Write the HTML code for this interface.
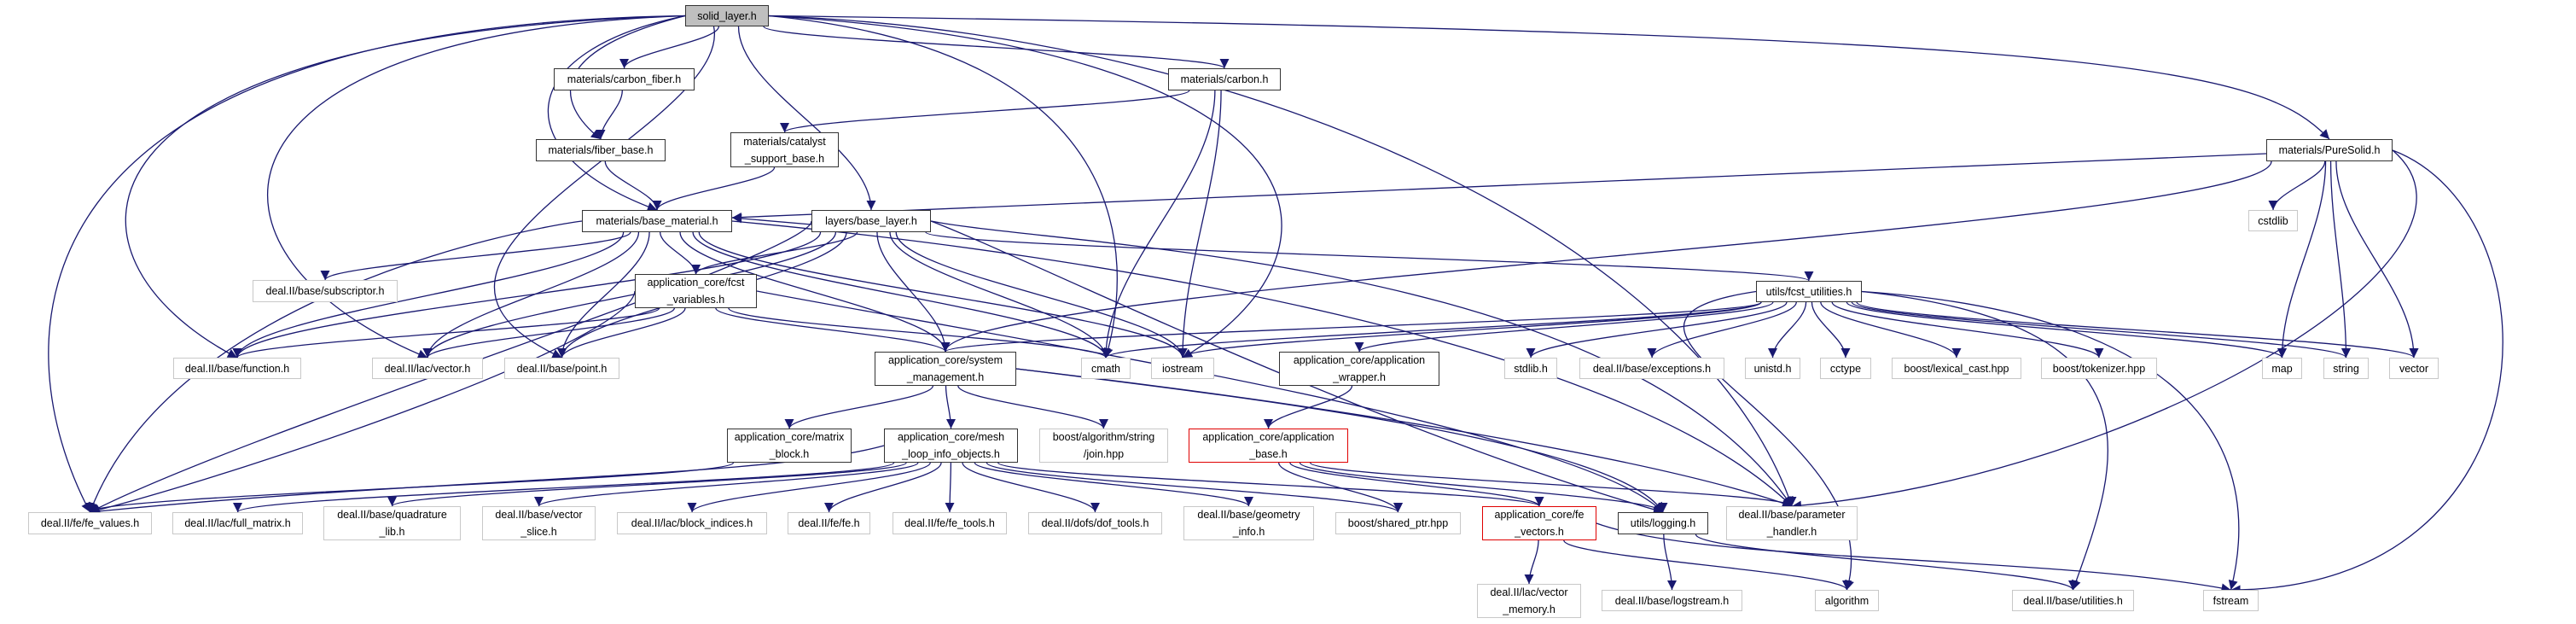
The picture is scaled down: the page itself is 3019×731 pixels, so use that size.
<!DOCTYPE html>
<html><head><meta charset="utf-8">
<style>
html,body{margin:0;padding:0;background:#fff;}
#c{position:relative;width:3019px;height:731px;overflow:hidden;background:#fff;}
svg{position:absolute;left:0;top:0;}
.n{position:absolute;box-sizing:border-box;border:1.5px solid #333;background:#fff;font-family:"Liberation Sans",Arial,sans-serif;font-size:12.5px;color:#000;display:flex;align-items:center;justify-content:center;text-align:center;line-height:20px;white-space:nowrap;}
.g{border:1.5px solid #c8c8c8;}
.r{border:1.5px solid #e00000;}
.s{background:#bfbfbf;}
</style></head><body>
<div id="c">
<svg id="sv" width="3019" height="731" viewBox="0 0 3019 731">
<defs><marker id="a" viewBox="0 0 10 10" refX="10" refY="5" markerWidth="14" markerHeight="11" markerUnits="userSpaceOnUse" orient="auto"><path d="M0,0 L10,5 L0,10 z" fill="#191970"/></marker></defs>
<g id="e" fill="none" stroke="#191970" stroke-width="1.3"></g>
</svg>
<div class="n s" style="left:803px;top:6px;width:98px;height:25px">solid_layer.h</div>
<div class="n" style="left:649px;top:80px;width:165px;height:26px">materials/carbon_fiber.h</div>
<div class="n" style="left:628px;top:163px;width:152px;height:26px">materials/fiber_base.h</div>
<div class="n" style="left:856px;top:155px;width:127px;height:41px">materials/catalyst<br>_support_base.h</div>
<div class="n" style="left:682px;top:246px;width:176px;height:26px">materials/base_material.h</div>
<div class="n" style="left:951px;top:246px;width:140px;height:26px">layers/base_layer.h</div>
<div class="n g" style="left:296px;top:328px;width:170px;height:26px">deal.II/base/subscriptor.h</div>
<div class="n" style="left:744px;top:321px;width:143px;height:40px">application_core/fcst<br>_variables.h</div>
<div class="n" style="left:1369px;top:80px;width:132px;height:26px">materials/carbon.h</div>
<div class="n" style="left:2656px;top:163px;width:148px;height:26px">materials/PureSolid.h</div>
<div class="n g" style="left:2635px;top:246px;width:58px;height:25px">cstdlib</div>
<div class="n" style="left:2058px;top:329px;width:124px;height:25px">utils/fcst_utilities.h</div>
<div class="n g" style="left:203px;top:419px;width:150px;height:25px">deal.II/base/function.h</div>
<div class="n g" style="left:436px;top:419px;width:130px;height:25px">deal.II/lac/vector.h</div>
<div class="n g" style="left:591px;top:419px;width:135px;height:25px">deal.II/base/point.h</div>
<div class="n" style="left:1025px;top:412px;width:166px;height:40px">application_core/system<br>_management.h</div>
<div class="n g" style="left:1267px;top:419px;width:58px;height:25px">cmath</div>
<div class="n g" style="left:1349px;top:419px;width:74px;height:25px">iostream</div>
<div class="n" style="left:1499px;top:412px;width:188px;height:40px">application_core/application<br>_wrapper.h</div>
<div class="n g" style="left:1763px;top:419px;width:62px;height:25px">stdlib.h</div>
<div class="n g" style="left:1851px;top:419px;width:170px;height:25px">deal.II/base/exceptions.h</div>
<div class="n g" style="left:2045px;top:419px;width:65px;height:25px">unistd.h</div>
<div class="n g" style="left:2133px;top:419px;width:60px;height:25px">cctype</div>
<div class="n g" style="left:2217px;top:419px;width:152px;height:25px">boost/lexical_cast.hpp</div>
<div class="n g" style="left:2392px;top:419px;width:136px;height:25px">boost/tokenizer.hpp</div>
<div class="n g" style="left:2651px;top:419px;width:47px;height:25px">map</div>
<div class="n g" style="left:2723px;top:419px;width:53px;height:25px">string</div>
<div class="n g" style="left:2800px;top:419px;width:58px;height:25px">vector</div>
<div class="n" style="left:852px;top:502px;width:146px;height:40px">application_core/matrix<br>_block.h</div>
<div class="n" style="left:1036px;top:502px;width:157px;height:40px">application_core/mesh<br>_loop_info_objects.h</div>
<div class="n g" style="left:1218px;top:502px;width:151px;height:40px">boost/algorithm/string<br>/join.hpp</div>
<div class="n r" style="left:1393px;top:502px;width:187px;height:40px">application_core/application<br>_base.h</div>
<div class="n g" style="left:33px;top:600px;width:145px;height:26px">deal.II/fe/fe_values.h</div>
<div class="n g" style="left:202px;top:600px;width:153px;height:26px">deal.II/lac/full_matrix.h</div>
<div class="n g" style="left:379px;top:593px;width:161px;height:40px">deal.II/base/quadrature<br>_lib.h</div>
<div class="n g" style="left:565px;top:593px;width:133px;height:40px">deal.II/base/vector<br>_slice.h</div>
<div class="n g" style="left:723px;top:600px;width:176px;height:26px">deal.II/lac/block_indices.h</div>
<div class="n g" style="left:923px;top:600px;width:97px;height:26px">deal.II/fe/fe.h</div>
<div class="n g" style="left:1046px;top:600px;width:134px;height:26px">deal.II/fe/fe_tools.h</div>
<div class="n g" style="left:1205px;top:600px;width:157px;height:26px">deal.II/dofs/dof_tools.h</div>
<div class="n g" style="left:1387px;top:593px;width:153px;height:40px">deal.II/base/geometry<br>_info.h</div>
<div class="n g" style="left:1565px;top:600px;width:147px;height:26px">boost/shared_ptr.hpp</div>
<div class="n r" style="left:1737px;top:593px;width:134px;height:40px">application_core/fe<br>_vectors.h</div>
<div class="n" style="left:1896px;top:600px;width:106px;height:26px">utils/logging.h</div>
<div class="n g" style="left:2023px;top:593px;width:154px;height:40px">deal.II/base/parameter<br>_handler.h</div>
<div class="n g" style="left:1731px;top:684px;width:122px;height:40px">deal.II/lac/vector<br>_memory.h</div>
<div class="n g" style="left:1877px;top:691px;width:165px;height:25px">deal.II/base/logstream.h</div>
<div class="n g" style="left:2127px;top:691px;width:75px;height:25px">algorithm</div>
<div class="n g" style="left:2358px;top:691px;width:143px;height:25px">deal.II/base/utilities.h</div>
<div class="n g" style="left:2582px;top:691px;width:65px;height:25px">fstream</div>
</div>
<script>
var N={SL:[803,6,901,31],CF:[649,80,814,106],FB:[628,163,780,189],CSB:[856,155,983,196],BM:[682,246,858,272],BL:[951,246,1091,272],SUB:[296,328,466,354],FV:[744,321,887,361],CA:[1369,80,1501,106],PS:[2656,163,2804,189],CSTD:[2635,246,2693,271],FU:[2058,329,2182,354],FUNC:[203,419,353,444],VEC:[436,419,566,444],PT:[591,419,726,444],SM:[1025,412,1191,452],CMATH:[1267,419,1325,444],IOS:[1349,419,1423,444],AW:[1499,412,1687,452],STD:[1763,419,1825,444],EXC:[1851,419,2021,444],UNI:[2045,419,2110,444],CCT:[2133,419,2193,444],LEX:[2217,419,2369,444],TOK:[2392,419,2528,444],MAP:[2651,419,2698,444],STR:[2723,419,2776,444],VECT:[2800,419,2858,444],MB:[852,502,998,542],MLI:[1036,502,1193,542],JOIN:[1218,502,1369,542],AB:[1393,502,1580,542],FEV:[33,600,178,626],FM:[202,600,355,626],QL:[379,593,540,633],VS:[565,593,698,633],BI:[723,600,899,626],FE:[923,600,1020,626],FT:[1046,600,1180,626],DT:[1205,600,1362,626],GI:[1387,593,1540,633],SP:[1565,600,1712,626],FVEC:[1737,593,1871,633],LOG:[1896,600,2002,626],PH:[2023,593,2177,633],VM:[1731,684,1853,724],LS:[1877,691,2042,716],ALG:[2127,691,2202,716],UT:[2358,691,2501,716],FS:[2582,691,2647,716]};
var E=[
["SL","CF"],["SL","FB",[640,60,650,120]],["SL","BM",[600,60,590,180]],["SL","BL"],["SL","CA"],["SL","PS",[2500,40,2650,80]],
["SL","FEV",[0,30,0,400]],["SL","FUNC",[60,40,50,300]],["SL","VEC",[220,40,210,300]],["SL","PT",[860,150,400,300]],
["SL","CMATH",[1330,60,1330,300]],["SL","IOS",[1580,60,1590,300]],["SL","PH",[1500,40,2000,300]],
["CF","FB"],["FB","BM"],["CSB","BM"],["CA","CSB"],["CA","CMATH"],["CA","IOS"],
["PS","BM","L"],["PS","SM"],["PS","CSTD"],["PS","MAP"],["PS","STR"],["PS","VECT"],["PS","PH",[2950,300,2500,560]],["PS","FS",[3000,250,3000,690]],
["BM","SUB"],["BM","FV"],["BM","FUNC"],["BM","VEC"],["BM","PT"],["BM","FEV",[600,270,200,350]],["BM","SM"],["BM","CMATH"],["BM","IOS"],["BM","PH",[1300,300,1900,400]],
["BL","BM","L"],["BL","FV"],["BL","FU"],["BL","SM"],["BL","FUNC"],["BL","VEC"],["BL","PT"],["BL","FEV",[950,300,300,500]],["BL","CMATH"],["BL","IOS"],["BL","LOG",[1200,300,1600,500]],["BL","PH",[1250,290,1900,300]],
["FV","FUNC"],["FV","VEC"],["FV","PT"],["FV","FEV",[740,400,300,550]],["FV","SM"],["FV","CMATH"],["FV","LOG",[1200,400,1850,500]],
["FU","SM"],["FU","CMATH"],["FU","IOS"],["FU","AW"],["FU","STD"],["FU","EXC"],["FU","UNI"],["FU","CCT"],["FU","LEX"],["FU","TOK"],["FU","MAP"],["FU","STR"],["FU","VECT"],["FU","ALG",[1800,380,2220,500]],["FU","UT",[2550,380,2480,550]],["FU","FS",[2600,370,2650,550]],
["SM","MB"],["SM","MLI"],["SM","JOIN"],["SM","LOG",[1500,470,1900,520]],["SM","PH",[1600,480,1950,540]],
["AW","AB"],["AB","SP"],["AB","FVEC"],["AB","LOG"],["AB","PH"],
["MB","FEV"],["MLI","FEV",[900,560,500,560]],["MLI","FM"],["MLI","QL"],["MLI","VS"],["MLI","BI"],["MLI","FE"],["MLI","FT"],["MLI","DT"],["MLI","GI"],["MLI","SP"],["MLI","FVEC"],
["FVEC","VM"],["FVEC","ALG"],["FVEC","FS",[2000,660,2400,650]],["LOG","LS"],["LOG","UT"]];
var g=document.getElementById("e"),s="";
E.forEach(function(e){var a=N[e[0]],b=N[e[1]];var ac=(a[0]+a[2])/2,bc=(b[0]+b[2])/2;
var sx,sy,tx,ty,c;
if(e[2]==="L"){sx=a[0];sy=(a[1]+a[3])/2+4;tx=b[2];ty=(b[1]+b[3])/2-4;s+='<path d="M'+sx+','+sy+' L'+tx+','+ty+'" marker-end="url(#a)"/>';return;}
sx=ac+(bc-ac)*0.08;sx=Math.max(a[0]+6,Math.min(a[2]-6,sx));sy=a[3];
tx=bc;ty=b[1];
if(e[2]){c=e[2];if(c[0]<a[0]){sx=a[0];sy=(a[1]+a[3])/2;}else if(c[0]>a[2]){sx=a[2];sy=(a[1]+a[3])/2;}
s+='<path d="M'+sx+','+sy+' C'+c[0]+','+c[1]+' '+c[2]+','+c[3]+' '+tx+','+ty+'" marker-end="url(#a)"/>';return;}
var dy=ty-sy;
if(dy<40){sx=a[2];sy=(a[1]+a[3])/2;}
s+='<path d="M'+sx+','+sy+' C'+sx+','+(sy+dy*0.35)+' '+tx+','+(ty-dy*0.35)+' '+tx+','+ty+'" marker-end="url(#a)"/>';});
g.innerHTML=s;
</script>
</body></html>
